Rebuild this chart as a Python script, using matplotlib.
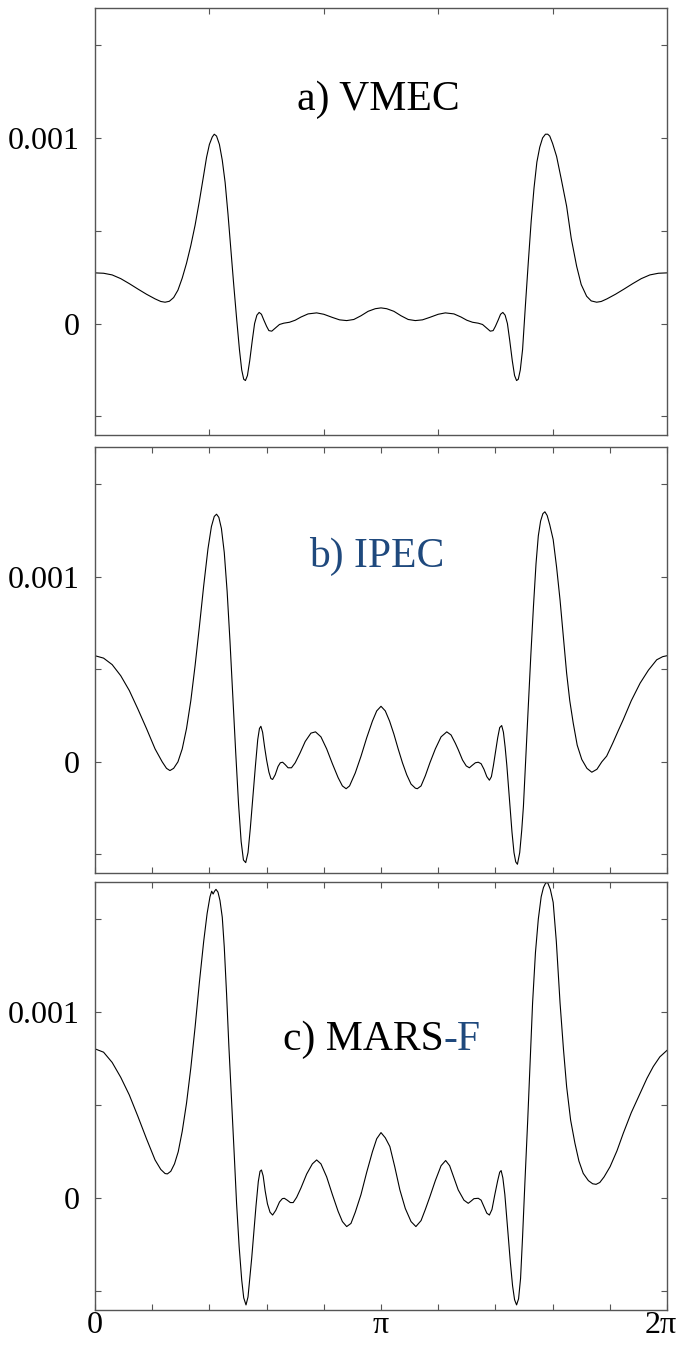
import numpy as np
import matplotlib.pyplot as plt
from matplotlib.ticker import FixedLocator, NullFormatter
from matplotlib.transforms import ScaledTranslation

plt.rcParams['font.family'] = ['Liberation Serif', 'DejaVu Serif']

# poloidal angle in units of pi, values in units of 1e-4
t_vmec = [0, 0.03, 0.06, 0.09, 0.12, 0.15, 0.18, 0.21, 0.23, 0.245,
          0.26, 0.275, 0.29, 0.305, 0.32, 0.335, 0.35, 0.365, 0.38, 0.39,
          0.40, 0.41, 0.417, 0.425, 0.435, 0.445, 0.455, 0.465, 0.475, 0.485,
          0.495, 0.505, 0.513, 0.52, 0.526, 0.533, 0.541, 0.55, 0.558, 0.566,
          0.574, 0.582, 0.59, 0.60, 0.608, 0.618, 0.63, 0.645, 0.66, 0.68,
          0.70, 0.72, 0.745, 0.775, 0.80, 0.83, 0.855, 0.88, 0.905, 0.93,
          0.955, 0.98, 1.0,
          1.02, 1.045, 1.07, 1.095, 1.12, 1.145, 1.17, 1.20, 1.225, 1.255,
          1.28, 1.30, 1.32, 1.34, 1.355, 1.37, 1.382, 1.392, 1.40, 1.41,
          1.418, 1.426, 1.434, 1.442, 1.45, 1.459, 1.467, 1.474, 1.48, 1.487,
          1.495, 1.505, 1.515, 1.525, 1.535, 1.545, 1.555, 1.565, 1.575, 1.583,
          1.59, 1.60, 1.614, 1.63, 1.649, 1.665, 1.684, 1.70, 1.719, 1.735,
          1.754, 1.77, 1.79, 1.82, 1.85, 1.88, 1.91, 1.94, 1.97, 2.0]
v_vmec = [2.73, 2.71, 2.62, 2.42, 2.15, 1.86, 1.58, 1.33, 1.19, 1.15,
          1.20, 1.40, 1.80, 2.45, 3.25, 4.20, 5.30, 6.60, 8.00, 8.95,
          9.65, 10.05, 10.2, 10.1, 9.65, 8.80, 7.60, 5.90, 4.00, 2.10,
          0.30, -1.40, -2.50, -3.00, -3.07, -2.80, -2.00, -0.90, 0.00, 0.45,
          0.60, 0.50, 0.20, -0.15, -0.38, -0.41, -0.25, -0.05, 0.02, 0.07,
          0.18, 0.35, 0.52, 0.575, 0.50, 0.33, 0.20, 0.16, 0.22, 0.42,
          0.66, 0.80, 0.844,
          0.80, 0.66, 0.42, 0.22, 0.16, 0.20, 0.33, 0.50, 0.575, 0.52,
          0.35, 0.18, 0.07, 0.02, -0.05, -0.25, -0.41, -0.38, -0.15, 0.20,
          0.50, 0.60, 0.45, 0.00, -0.90, -2.00, -2.80, -3.07, -3.00, -2.50,
          -1.40, 1.00, 3.30, 5.50, 7.30, 8.70, 9.50, 10.0, 10.2, 10.2,
          10.1, 9.70, 9.00, 7.80, 6.32, 4.60, 3.09, 2.10, 1.47, 1.22,
          1.15, 1.19, 1.33, 1.58, 1.86, 2.15, 2.42, 2.62, 2.71, 2.73]

t_ipec = [0, 0.03, 0.06, 0.09, 0.12, 0.15, 0.18, 0.21, 0.235, 0.25,
          0.262, 0.275, 0.29, 0.305, 0.32, 0.335, 0.35, 0.365, 0.38, 0.395,
          0.407, 0.417, 0.425, 0.433, 0.442, 0.452, 0.462, 0.472, 0.482, 0.492,
          0.502, 0.511, 0.519, 0.527, 0.535, 0.543, 0.552, 0.561, 0.569, 0.575,
          0.580, 0.586, 0.593, 0.600, 0.608, 0.615, 0.621, 0.630, 0.640, 0.648,
          0.656, 0.665, 0.675, 0.687, 0.70, 0.717, 0.735, 0.755, 0.771, 0.79,
          0.81, 0.83, 0.85, 0.865, 0.878, 0.89, 0.91, 0.93, 0.95, 0.97,
          0.985, 1.0,
          1.015, 1.03, 1.045, 1.06, 1.075, 1.09, 1.105, 1.12, 1.127, 1.14,
          1.155, 1.171, 1.19, 1.21, 1.23, 1.245, 1.26, 1.27, 1.285, 1.298,
          1.309, 1.318, 1.33, 1.34, 1.35, 1.36, 1.37, 1.379, 1.386, 1.393,
          1.40, 1.408, 1.415, 1.422, 1.428, 1.434, 1.44, 1.446, 1.451, 1.458,
          1.465, 1.471, 1.477, 1.485, 1.492, 1.498, 1.506, 1.515, 1.524, 1.533,
          1.542, 1.550, 1.558, 1.566, 1.573, 1.581, 1.590, 1.602, 1.614, 1.626,
          1.638, 1.649, 1.660, 1.672, 1.686, 1.702, 1.72, 1.737, 1.755, 1.772,
          1.789, 1.81, 1.83, 1.847, 1.875, 1.906, 1.935, 1.964, 1.985, 2.0]
v_ipec = [5.73, 5.60, 5.25, 4.65, 3.85, 2.85, 1.80, 0.70, 0.00, -0.35,
          -0.47, -0.35, 0.00, 0.70, 1.80, 3.30, 5.20, 7.30, 9.50, 11.50,
          12.70, 13.25, 13.37, 13.20, 12.60, 11.30, 9.20, 6.50, 3.50, 0.50,
          -2.30, -4.30, -5.30, -5.44, -4.90, -3.60, -1.90, -0.20, 1.20, 1.80,
          1.92, 1.60, 0.80, 0.10, -0.55, -0.90, -0.95, -0.70, -0.25, -0.05,
          -0.02, -0.15, -0.32, -0.32, -0.05, 0.48, 1.10, 1.55, 1.62, 1.35,
          0.70, -0.10, -0.85, -1.30, -1.45, -1.30, -0.60, 0.30, 1.30, 2.20,
          2.75, 3.00,
          2.75, 2.20, 1.50, 0.70, -0.05, -0.70, -1.20, -1.42, -1.45, -1.30,
          -0.75, -0.05, 0.70, 1.35, 1.62, 1.45, 1.00, 0.66, 0.10, -0.22,
          -0.32, -0.20, -0.05, -0.02, -0.10, -0.40, -0.80, -0.99, -0.80, -0.20,
          0.50, 1.30, 1.85, 1.96, 1.60, 0.80, -0.20, -1.40, -2.39, -3.80,
          -4.90, -5.40, -5.53, -4.90, -3.70, -2.39, 0.20, 3.00, 5.80, 8.38,
          10.7, 12.2, 13.0, 13.4, 13.5, 13.3, 12.8, 12.0, 10.5, 8.74,
          6.70, 4.79, 3.30, 2.10, 0.90, 0.13, -0.35, -0.56, -0.40, 0.00,
          0.31, 1.00, 1.70, 2.28, 3.30, 4.25, 4.95, 5.51, 5.68, 5.73]

t_mars = [0, 0.03, 0.06, 0.09, 0.12, 0.15, 0.18, 0.21, 0.23, 0.245,
          0.253, 0.265, 0.278, 0.291, 0.305, 0.32, 0.335, 0.35, 0.365, 0.38,
          0.392, 0.402, 0.408, 0.413, 0.418, 0.423, 0.430, 0.437, 0.445, 0.452,
          0.46, 0.468, 0.478, 0.487, 0.495, 0.504, 0.513, 0.520, 0.528, 0.535,
          0.542, 0.548, 0.554, 0.563, 0.571, 0.577, 0.582, 0.588, 0.595, 0.603,
          0.612, 0.621, 0.632, 0.645, 0.655, 0.662, 0.672, 0.683, 0.693, 0.705,
          0.72, 0.74, 0.76, 0.775, 0.79, 0.81, 0.83, 0.85, 0.865, 0.88,
          0.895, 0.91, 0.93, 0.95, 0.97, 0.985, 1.0,
          1.015, 1.031, 1.048, 1.066, 1.085, 1.105, 1.122, 1.14, 1.155, 1.171,
          1.19, 1.21, 1.226, 1.24, 1.255, 1.270, 1.29, 1.305, 1.315, 1.325,
          1.340, 1.35, 1.36, 1.37, 1.379, 1.388, 1.398, 1.408, 1.415, 1.420,
          1.426, 1.433, 1.439, 1.445, 1.452, 1.46, 1.467, 1.474, 1.481, 1.488,
          1.495, 1.503, 1.513, 1.522, 1.530, 1.540, 1.550, 1.560, 1.568, 1.576,
          1.583, 1.592, 1.602, 1.613, 1.626, 1.638, 1.649, 1.663, 1.678, 1.692,
          1.707, 1.725, 1.74, 1.752, 1.765, 1.78, 1.801, 1.825, 1.847, 1.875,
          1.906, 1.93, 1.952, 1.975, 2.0]
v_mars = [8.03, 7.85, 7.30, 6.50, 5.55, 4.40, 3.20, 2.06, 1.55, 1.33,
          1.31, 1.45, 1.85, 2.50, 3.60, 5.11, 7.00, 9.20, 11.60, 13.80,
          15.30, 16.20, 16.50, 16.35, 16.50, 16.60, 16.45, 16.00, 15.10, 13.50,
          11.00, 8.20, 5.11, 2.30, -0.27, -2.60, -4.39, -5.35, -5.73, -5.30,
          -4.20, -3.20, -2.06, -0.40, 0.90, 1.45, 1.52, 1.20, 0.40, -0.30,
          -0.75, -0.90, -0.65, -0.20, -0.02, 0.00, -0.10, -0.23, -0.23, 0.05,
          0.55, 1.30, 1.85, 2.06, 1.85, 1.15, 0.20, -0.70, -1.25, -1.52,
          -1.35, -0.75, 0.20, 1.40, 2.50, 3.20, 3.53,
          3.25, 2.78, 1.70, 0.45, -0.55, -1.25, -1.52, -1.20, -0.60, 0.09,
          0.95, 1.75, 2.03, 1.75, 1.10, 0.45, -0.10, -0.27, -0.15, -0.02,
          0.00, -0.10, -0.45, -0.80, -0.90, -0.60, 0.20, 0.95, 1.40, 1.49,
          1.10, 0.20, -0.90, -2.06, -3.40, -4.70, -5.45, -5.73, -5.40, -4.30,
          -2.06, 0.80, 4.21, 7.50, 10.5, 13.2, 15.0, 16.2, 16.7, 16.95,
          16.95, 16.6, 15.9, 13.8, 10.5, 8.00, 6.00, 4.20, 2.96, 2.00,
          1.34, 0.95, 0.78, 0.75, 0.85, 1.15, 1.70, 2.55, 3.49, 4.60,
          5.65, 6.45, 7.08, 7.60, 7.95]

blue = '#1f497d'
spine_col = '#555555'

fig = plt.figure(figsize=(6.8, 13.52), dpi=100)
left, width = 0.1397, 0.8412
rects = [(left, 0.6783, width, 0.3158),
         (left, 0.3543, width, 0.3151),
         (left, 0.0311, width, 0.3166)]
series = [(t_vmec, v_vmec), (t_ipec, v_ipec), (t_mars, v_mars)]
axes = []

for i, (rect, (t, v)) in enumerate(zip(rects, series)):
    ax = fig.add_axes(rect)
    x = np.pi * np.asarray(t)
    y = np.asarray(v) * 1e-4
    ax.plot(x, y, color='black', lw=0.8)
    ax.set_xlim(0, 2 * np.pi)
    ax.set_ylim(-0.0006, 0.0017)

    ax.yaxis.set_major_locator(FixedLocator([0, 0.001]))
    ax.yaxis.set_minor_locator(FixedLocator([-0.0005, 0.0005, 0.0015]))
    ax.set_yticklabels(['0', '0.001'])

    # top panel has coarser x ticks and none at pi
    step = 0.4 if i == 0 else 0.2
    minor = [k * step * np.pi for k in range(1, int(round(2 / step)))]
    minor = [m for m in minor if abs(m - np.pi) > 1e-6]
    ax.xaxis.set_major_locator(FixedLocator([0, np.pi, 2 * np.pi]))
    ax.xaxis.set_minor_locator(FixedLocator(minor))
    if i == 2:
        ax.set_xticklabels(['0', 'π', '2π'])
    else:
        ax.xaxis.set_major_formatter(NullFormatter())

    ax.tick_params(which='both', direction='in', top=True, right=True,
                   length=4, width=0.8, color=spine_col)
    ax.tick_params(axis='y', labelsize=23, pad=11)
    ax.tick_params(axis='x', labelsize=23, pad=1)
    if i == 0:
        ax.tick_params(axis='x', which='major', length=0)
    for s in ax.spines.values():
        s.set_color(spine_col)
        s.set_linewidth(1.0)
    axes.append(ax)

# keep the 2pi label inside the figure
lbl = axes[2].get_xticklabels()[-1]
lbl.set_transform(lbl.get_transform() + ScaledTranslation(-6 / 100, 0, fig.dpi_scale_trans))

axes[0].text(0.495, 0.785, 'a) VMEC', transform=axes[0].transAxes,
             ha='center', va='center', fontsize=30)
axes[1].text(0.493, 0.744, 'b) IPEC', transform=axes[1].transAxes,
             ha='center', va='center', fontsize=30, color=blue)
t1 = axes[2].text(0.329, 0.631, 'c) MARS', transform=axes[2].transAxes,
                  ha='left', va='center', fontsize=30)
axes[2].annotate('-F', xy=(1, 0.5), xycoords=t1, ha='left', va='center',
                 fontsize=30, color=blue)

fig.savefig('out.png', dpi=100)
